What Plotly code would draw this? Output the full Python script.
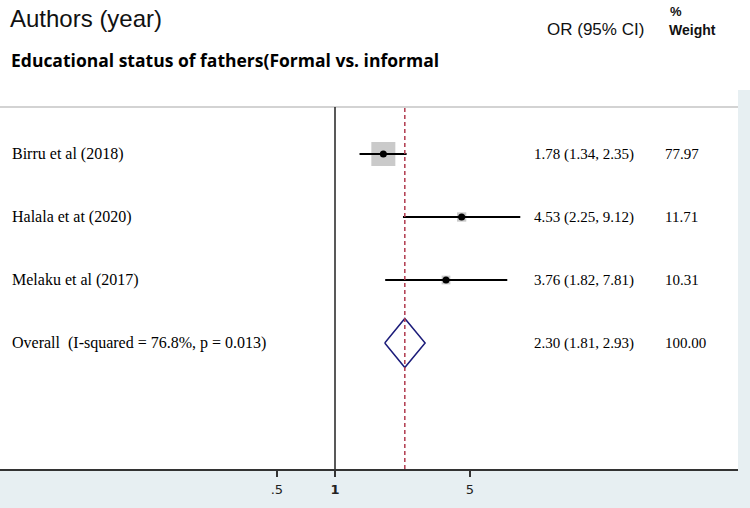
import math
import plotly.graph_objects as go

# ---------------- data ----------------
studies = ["Birru et al (2018)", "Halala et at (2020)", "Melaku et al (2017)"]
or_est = [1.78, 4.53, 3.76]
ci_low = [1.34, 2.25, 1.82]
ci_high = [2.35, 9.12, 7.81]
weights = [77.97, 11.71, 10.31]

overall_label = "Overall  (I-squared = 76.8%, p = 0.013)"
overall_est = 2.30
overall_low = 1.81
overall_high = 2.93
overall_weight = 100.00

tick_vals = [0.5, 1, 5]
tick_text = [".5", "<b>1</b>", "5"]

title_left = "Authors (year)"
title_or = "OR (95% CI)"
subgroup_title = "Educational status of fathers(Formal vs. informal"

# ---------------- layout geometry ----------------
W, H = 750, 508
ML, MR, MT, MB = 0, 12, 107, 39
PW = W - ML - MR
PH = H - MT - MB


def px(xp):
    return (xp - ML) / PW


def py(yp):
    return (H - MB - yp) / PH


rows = [4, 3, 2]          # study rows (top to bottom)
overall_row = 1
y_range = [-1, 4.746]
x_range = [-335 / 193, 403 / 193]

BLUE = "#e7eff2"
fig = go.Figure()

# weight boxes
max_w = max(weights)
fig.add_trace(go.Scatter(
    x=or_est, y=rows, mode="markers",
    marker=dict(symbol="square", color="#b4b4b4",
                size=[24 * math.sqrt(w / max_w) for w in weights],
                line=dict(width=0)),
    hoverinfo="skip", showlegend=False))

# CI lines
cx, cy = [], []
for lo, hi, r in zip(ci_low, ci_high, rows):
    cx += [lo, hi, None]
    cy += [r, r, None]
fig.add_trace(go.Scatter(x=cx, y=cy, mode="lines",
                         line=dict(color="black", width=2),
                         hoverinfo="skip", showlegend=False))

# point estimates
fig.add_trace(go.Scatter(x=or_est, y=rows, mode="markers",
                         marker=dict(symbol="circle", color="black", size=7),
                         hoverinfo="skip", showlegend=False))

# overall diamond
h = 0.39
fig.add_trace(go.Scatter(
    x=[overall_low, overall_est, overall_high, overall_est, overall_low],
    y=[overall_row, overall_row + h, overall_row, overall_row - h, overall_row],
    mode="lines", line=dict(color="#1c1c7a", width=1.5),
    hoverinfo="skip", showlegend=False))

shapes = [
    # light blue panels
    dict(type="rect", xref="paper", yref="paper", x0=px(0), x1=px(W),
         y0=py(H), y1=py(470), fillcolor=BLUE, line=dict(width=0), layer="below"),
    dict(type="rect", xref="paper", yref="paper", x0=px(738), x1=px(W),
         y0=py(470), y1=py(90), fillcolor=BLUE, line=dict(width=0), layer="below"),
    # top gray line
    dict(type="line", xref="paper", yref="paper", x0=0, x1=1, y0=1, y1=1,
         line=dict(color="#c4c4c4", width=1.5)),
    # null line
    dict(type="line", xref="x", yref="paper", x0=1, x1=1, y0=0, y1=1,
         line=dict(color="#222222", width=1.5)),
    # overall dashed line
    dict(type="line", xref="x", yref="paper",
         x0=overall_est, x1=overall_est, y0=0, y1=1,
         line=dict(color="#b03a4e", width=1.5, dash="4px,3px")),
]

serif = "Liberation Serif, Times New Roman, serif"
ann = []
for name, e, lo, hi, w, r in zip(studies, or_est, ci_low, ci_high, weights, rows):
    ann.append(dict(text=name, x=px(10), y=r, xref="paper", yref="y",
                    xanchor="left", yanchor="middle", showarrow=False,
                    font=dict(family=serif, size=16, color="black")))
    ann.append(dict(text=f"{e:.2f} ({lo:.2f}, {hi:.2f})", x=px(532), y=r,
                    xref="paper", yref="y", xanchor="left", yanchor="middle",
                    showarrow=False, font=dict(family=serif, size=15, color="black")))
    ann.append(dict(text=f"{w:.2f}", x=px(663), y=r, xref="paper", yref="y",
                    xanchor="left", yanchor="middle", showarrow=False,
                    font=dict(family=serif, size=15, color="black")))

ann.append(dict(text=overall_label, x=px(10), y=overall_row, xref="paper", yref="y",
                xanchor="left", yanchor="middle", showarrow=False,
                font=dict(family=serif, size=16, color="black")))
ann.append(dict(text=f"{overall_est:.2f} ({overall_low:.2f}, {overall_high:.2f})",
                x=px(532), y=overall_row, xref="paper", yref="y",
                xanchor="left", yanchor="middle", showarrow=False,
                font=dict(family=serif, size=15, color="black")))
ann.append(dict(text=f"{overall_weight:.2f}", x=px(663), y=overall_row,
                xref="paper", yref="y", xanchor="left", yanchor="middle",
                showarrow=False, font=dict(family=serif, size=15, color="black")))

sans = "Liberation Sans, Arial, sans-serif"
ann.append(dict(text=title_left, x=px(8), y=py(18), xref="paper", yref="paper",
                xanchor="left", yanchor="middle", showarrow=False,
                font=dict(family=sans, size=24, color="#111111")))
ann.append(dict(text=title_or, x=px(545), y=py(30), xref="paper", yref="paper",
                xanchor="left", yanchor="middle", showarrow=False,
                font=dict(family=sans, size=17, color="#111111")))
ann.append(dict(text="<b>%</b>", x=px(668), y=py(11), xref="paper", yref="paper",
                xanchor="left", yanchor="middle", showarrow=False,
                font=dict(family=sans, size=13, color="#111111")))
ann.append(dict(text="<b>Weight</b>", x=px(667), y=py(30), xref="paper", yref="paper",
                xanchor="left", yanchor="middle", showarrow=False,
                font=dict(family=sans, size=14, color="#111111")))
ann.append(dict(text="<b>" + subgroup_title + "</b>", x=px(9), y=py(60),
                xref="paper", yref="paper", xanchor="left", yanchor="middle",
                showarrow=False,
                font=dict(family="Open Sans, sans-serif", size=17.5, color="black")))

fig.update_layout(
    width=W, height=H,
    margin=dict(l=ML, r=MR, t=MT, b=MB, pad=0),
    paper_bgcolor="white", plot_bgcolor="white",
    showlegend=False,
    shapes=shapes, annotations=ann,
    xaxis=dict(type="log", range=x_range, tickvals=tick_vals, ticktext=tick_text,
               showgrid=False, zeroline=False, showline=True, linecolor="#333333",
               linewidth=2, ticks="outside", ticklen=6, tickwidth=2, tickcolor="#333333",
               ticklabelstandoff=1,
               tickfont=dict(family="DejaVu Sans, sans-serif", size=13, color="#222222"),
               fixedrange=True),
    yaxis=dict(range=y_range, visible=False, showgrid=False, zeroline=False,
               fixedrange=True),
)

fig.write_html("out.html", config={"displayModeBar": False},
               post_script="document.body.style.margin='0';")
